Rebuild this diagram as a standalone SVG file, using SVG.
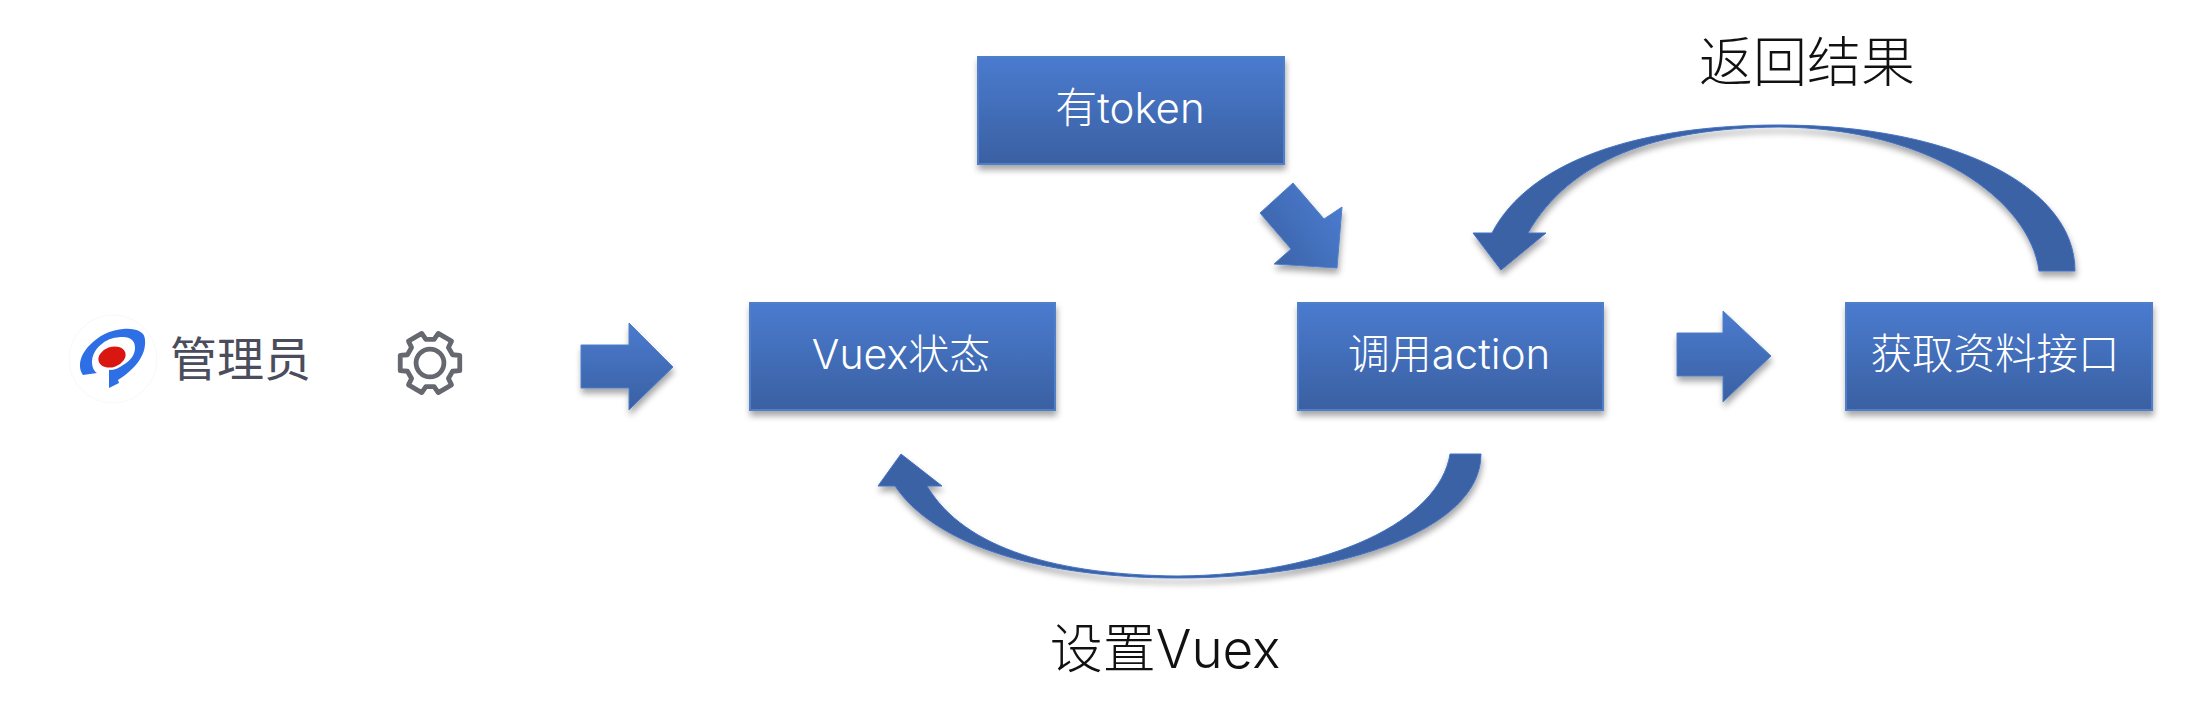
<svg xmlns="http://www.w3.org/2000/svg" width="2198" height="717" viewBox="0 0 2198 717">
<style>
text{font-family:"Inter","Noto Sans CJK SC",sans-serif;font-weight:300}
.box{fill:url(#g);stroke:#4f7fc8;stroke-width:2;filter:url(#s)}
.lb{fill:#fff;font-size:42px;text-anchor:middle}
.big{fill:#111;font-size:54px;text-anchor:middle}
.ar{fill:url(#g);stroke:#4f7fc8;stroke-width:1;filter:url(#s)}
.cv{fill:#3a62a5;stroke:#4472c4;stroke-width:1;filter:url(#s)}
</style>
<defs>
<linearGradient id="g" x1="0" y1="0" x2="0" y2="1"><stop offset="0" stop-color="#4a7bcf"/><stop offset="1" stop-color="#3a60a2"/></linearGradient>
<linearGradient id="g2" x1="1" y1="0.3" x2="0" y2="1"><stop offset="0" stop-color="#4a7bcf"/><stop offset="1" stop-color="#3a60a2"/></linearGradient>
<filter id="s" x="-10%" y="-10%" width="125%" height="130%"><feDropShadow dx="1" dy="5" stdDeviation="3" flood-color="#000" flood-opacity="0.35"/></filter>
</defs>
<g id="connectors">
<path class="ar" d="M581 345H629V323L673 367L629 410V388H581Z"/>
<path class="ar" d="M1677 333H1723V311L1771 356L1723 402V376H1677Z"/>
<path class="ar" style="fill:url(#g2)" d="M1293 183L1324 219L1342 207L1337 268L1274 264L1291 249L1260 213Z"/>
<path class="cv" d="M1501 270L1473 233H1492C1530 160 1640 125 1779 125C1950 125 2075 185 2075 271H2039C2030 200 1930 128 1779 127C1655 128 1570 160 1528 233H1546Z"/>
<path class="cv" d="M901 454L878 486H895C935 545 1040 578 1178 578C1340 578 1481 530 1481 454H1450C1440 520 1330 575 1178 576C1060 575 965 550 927 486H942Z"/>
</g>
<g id="admin">
<circle cx="113" cy="359" r="44" fill="#fff" stroke="#f8f8fa" stroke-width="1"/>
<path d="M97 373L83 375C78 368 78 355 93 342C103 333 113 330 123 329C135 328 145 331 145 340C146 350 141 360 133 368C128 373 123 377 118 380L119 383L109 388V370C115 370 119 368 123 365C130 361 135 355 135 348C135 341 131 337 123 337C115 337 108 339 103 343C96 348 92 355 92 362C92 367 94 371 97 373Z" fill="#2f6fe6"/>
<ellipse cx="112" cy="357" rx="14" ry="10" fill="#d9160f" transform="rotate(-20 112 357)"/>
<text x="170" y="376" style="font-size:47px;fill:#4a4d5c;font-weight:400;text-anchor:start">管理员</text>
</g>
<g id="gear" transform="translate(430 363) scale(0.96)" fill="none" stroke="#666870" stroke-width="5" stroke-linejoin="round">
<polygon points="23.5,-8.6 31,-8 31,8 23.5,8.6 19.2,16.1 22.4,22.8 8.6,30.8 4.3,24.6 -4.3,24.6 -8.6,30.8 -22.4,22.8 -19.2,16.1 -23.5,8.6 -31,8 -31,-8 -23.5,-8.6 -19.2,-16.1 -22.4,-22.8 -8.6,-30.8 -4.3,-24.6 4.3,-24.6 8.6,-30.8 22.4,-22.8 19.2,-16.1"/>
<circle r="14.5"/>
</g>
<g id="token"><rect class="box" x="978" y="57" width="306" height="107"/><text class="lb" x="1130" y="123">有token</text></g>
<g id="vuex"><rect class="box" x="750" y="303" width="305" height="107"/><text class="lb" x="901" y="369" style="font-size:41px">Vuex状态</text></g>
<g id="action"><rect class="box" x="1298" y="303" width="305" height="107"/><text class="lb" x="1449" y="369">调用action</text></g>
<g id="api"><rect class="box" x="1846" y="303" width="306" height="107"/><text class="lb" x="1995" y="369" style="font-size:41.5px">获取资料接口</text></g>
<g id="result"><text class="big" x="1807" y="82">返回结果</text></g>
<g id="setvuex"><text class="big" x="1165" y="668" style="font-size:53px">设置Vuex</text></g>
</svg>
